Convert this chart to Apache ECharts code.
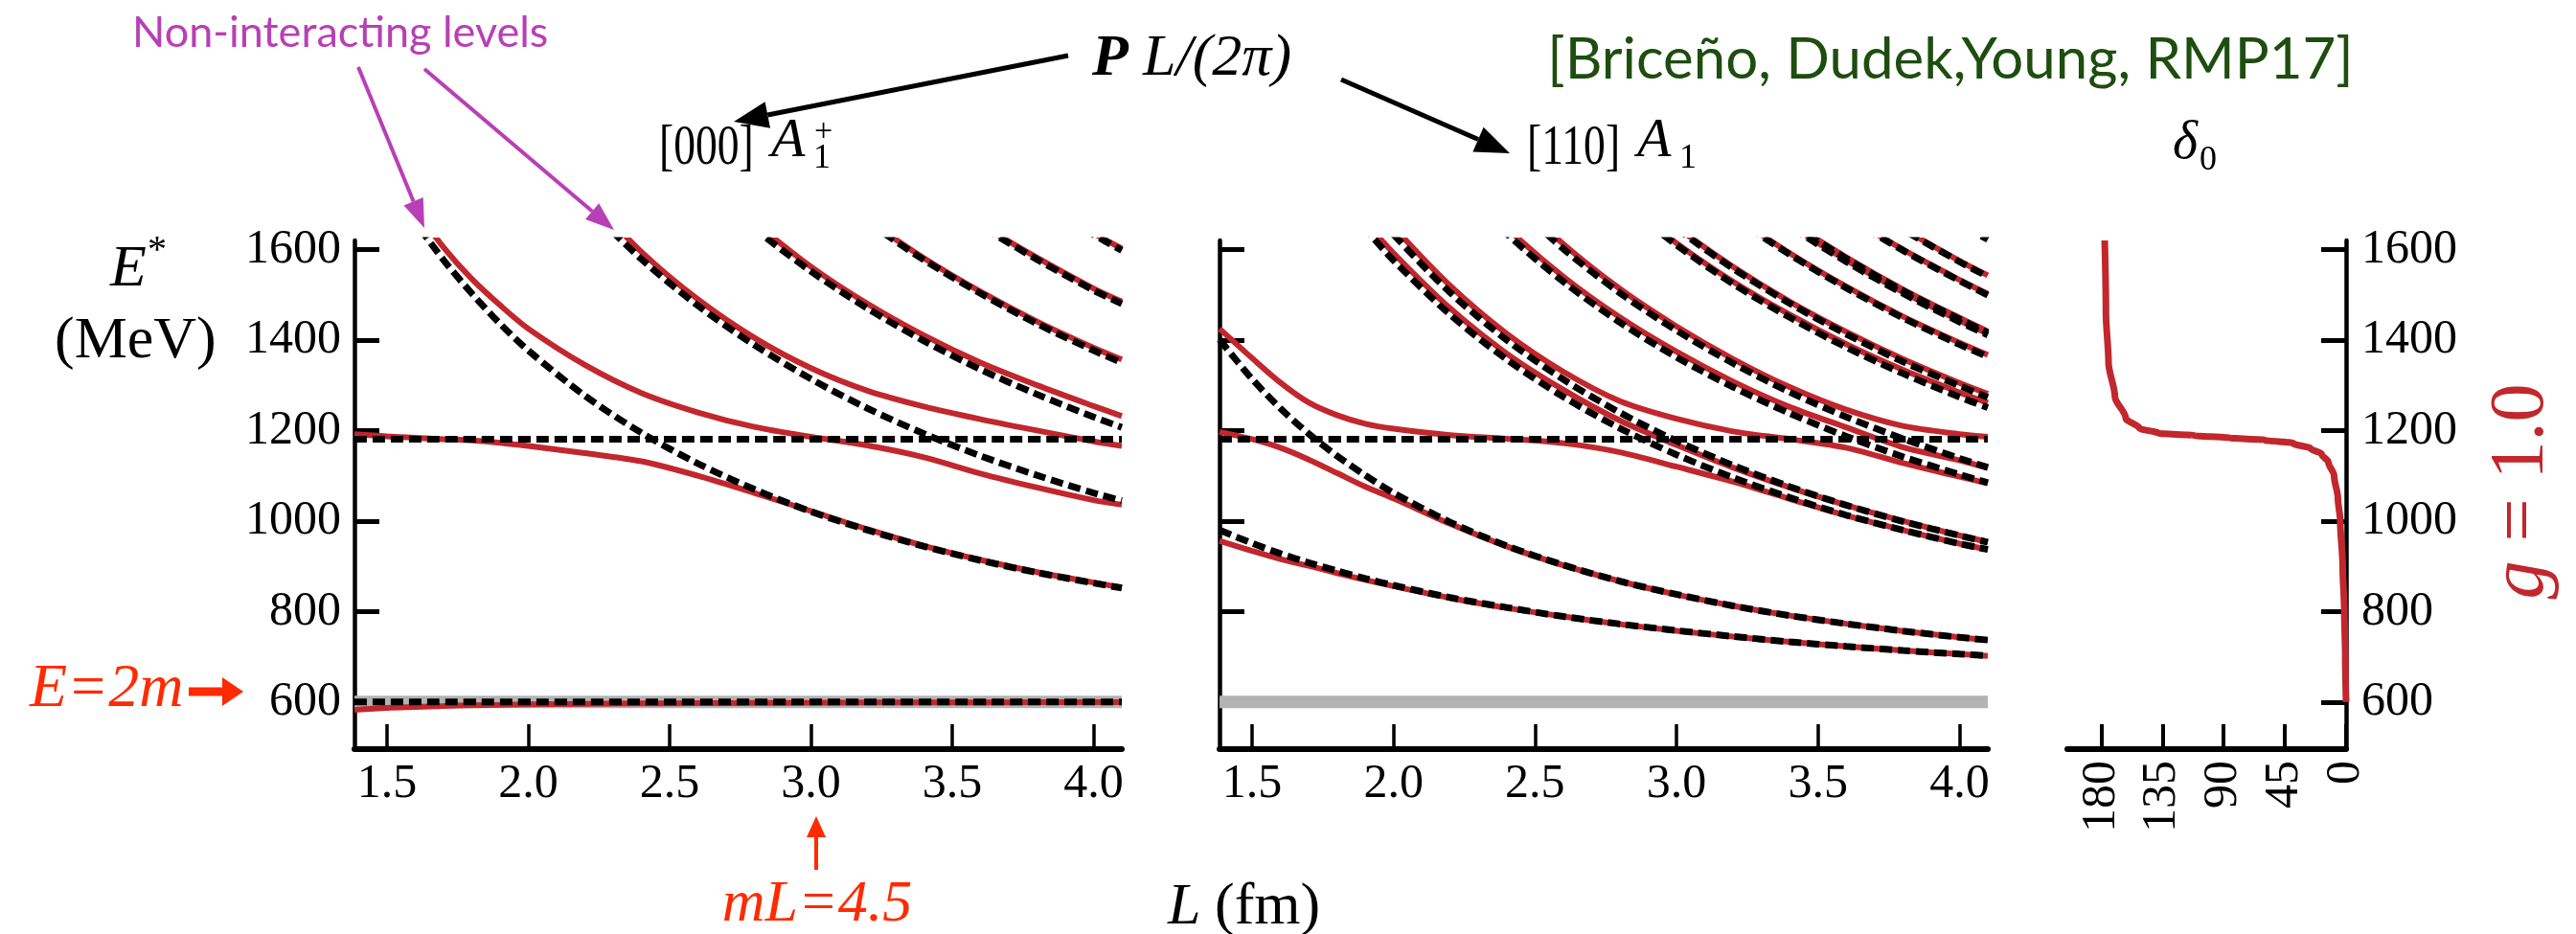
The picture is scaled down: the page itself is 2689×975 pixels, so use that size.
<!DOCTYPE html>
<html lang="en">
<head>
<meta charset="UTF-8">
<title>Finite-volume spectrum, resonance in s-wave</title>
<script src="https://cdn.jsdelivr.net/npm/echarts@6/dist/echarts.min.js"></script>
<style>
    * { margin: 0; padding: 0 }
    html, body { width: 100%; height: 100%; background: #fff; }
    #chart { width: 2689px; height: 975px; }
</style>
</head>
<body>
<div id="chart"></div>
<script>
    // box size L (fm) where the levels are sampled
    const L = [1.385, 1.5, 1.6, 1.7, 1.8, 1.9, 2.0, 2.2, 2.4, 2.6, 2.8, 3.0, 3.2, 3.4, 3.6, 3.8, 4.0, 4.1];
    const _ = null;

    // flat levels: threshold E=2m and the bare state
    const flatL = [1.385, 4.1];
    const threshold = [600, 600];
    const bare = [1181, 1181];

    // [000] A1+ : non-interacting levels (dashed)
    const p1Free = [
        [1888, 1759, 1662, 1577, 1503, 1436, 1377, 1277, 1195, 1127, 1070, 1021, 980, 944, 913, 886, 863, 852],
        [_, _, _, _, _, _, 1853, 1703, 1579, 1476, 1389, 1314, 1249, 1193, 1144, 1101, 1062, 1045],
        [_, _, _, _, _, _, _, _, _, 1757, 1647, 1552, 1470, 1398, 1335, 1280, 1230, 1207],
        [_, _, _, _, _, _, _, _, _, _, _, 1758, 1662, 1577, 1503, 1436, 1377, 1350],
        [_, _, _, _, _, _, _, _, _, _, _, _, _, 1737, 1653, 1578, 1510, 1480],
        [_, _, _, _, _, _, _, _, _, _, _, _, _, _, _, 1707, 1633, 1598]
    ];
    // [000] A1+ : interacting levels (red)
    const p1Levels = [
        [583, 587, 589, 591, 593, 594, 595, 596, 597, 597.5, 598, 598.5, 599, 599, 599, 599.5, 599.5, 599.5],
        [1192, 1187, 1184, 1181, 1178, 1173, 1166, 1150, 1132, 1100, 1062, 1022, 982, 945, 914, 887, 864, 853],
        [_, _, 1690, 1605, 1535, 1477, 1425, 1345, 1283, 1240, 1208, 1186, 1167, 1141, 1105, 1074, 1046, 1036],
        [_, _, _, _, _, _, _, 1725, 1595, 1490, 1405, 1338, 1288, 1253, 1225, 1200, 1176, 1166],
        [_, _, _, _, _, _, _, _, _, _, 1660, 1562, 1480, 1410, 1350, 1300, 1254, 1232],
        [_, _, _, _, _, _, _, _, _, _, _, 1762, 1666, 1581, 1507, 1441, 1383, 1357],
        [_, _, _, _, _, _, _, _, _, _, _, _, _, 1740, 1656, 1582, 1514, 1485],
        [_, _, _, _, _, _, _, _, _, _, _, _, _, _, _, 1710, 1636, 1602]
    ];

    // [110] A1 : non-interacting levels (dashed)
    const p2Free = [
        [980, 951, 928, 908, 890, 873, 858, 831, 809, 789, 772.5, 758, 745, 733, 723, 714, 706, 702.5],
        [1401, 1314, 1249, 1193, 1144, 1101, 1062, 997.5, 945, 903, 867, 838, 812.5, 791, 773, 757, 743, 737],
        [_, _, _, 1814, 1725.5, 1647, 1576, 1456, 1357, 1274.5, 1205, 1146.5, 1096, 1052, 1013, 980, 950, 937],
        [_, _, _, _, 1791, 1707, 1633, 1505, 1400, 1313, 1239.5, 1177, 1123, 1076, 1035, 999, 968, 953],
        [_, _, _, _, _, _, _, 1762, 1635, 1529, 1439, 1362, 1296, 1238, 1187, 1142, 1103, 1084.5],
        [_, _, _, _, _, _, _, _, 1717, 1601.5, 1504, 1421, 1348.5, 1285, 1230, 1182, 1138.5, 1118.5],
        [_, _, _, _, _, _, _, _, _, _, 1709, 1610, 1524, 1450, 1384, 1326, 1274, 1250.5],
        [_, _, _, _, _, _, _, _, _, _, 1749, 1647, 1558, 1481, 1413, 1352, 1299, 1273.5],
        [_, _, _, _, _, _, _, _, _, _, _, 1770, 1673, 1589, 1515, 1449, 1390, 1363],
        [_, _, _, _, _, _, _, _, _, _, _, _, 1742, 1652, 1573, 1503, 1440, 1411],
        [_, _, _, _, _, _, _, _, _, _, _, _, 1750, 1659, 1580, 1509, 1446, 1416],
        [_, _, _, _, _, _, _, _, _, _, _, _, _, 1759, 1674, 1598, 1531, 1499],
        [_, _, _, _, _, _, _, _, _, _, _, _, _, _, 1723, 1644, 1573, 1540],
        [_, _, _, _, _, _, _, _, _, _, _, _, _, _, _, 1732, 1657, 1622]
    ];
    // [110] A1 : interacting levels (red)
    const p2Levels = [
        [956, 934, 916, 901, 885, 870, 856, 830, 808, 789, 772, 757.5, 744.5, 733, 723, 714, 706, 702],
        [1197, 1181, 1162, 1136, 1106, 1076, 1050, 994, 944, 902, 867, 837.5, 812.5, 791, 773, 757, 743, 737],
        [1425, 1360, 1306, 1262, 1234, 1215, 1204, 1190, 1182, 1172, 1152, 1120, 1087, 1049, 1012, 980, 950, 937],
        [_, _, _, _, 1740, 1662, 1592, 1470, 1370, 1290, 1222, 1168, 1118, 1074, 1035, 1000, 968, 954],
        [_, _, _, _, _, 1725, 1650, 1520, 1414, 1330, 1265, 1226, 1198, 1181, 1162, 1128, 1098, 1083],
        [_, _, _, _, _, _, _, 1775, 1648, 1540, 1450, 1374, 1308, 1252, 1207, 1163, 1134, 1117],
        [_, _, _, _, _, _, _, _, 1730, 1612, 1513, 1430, 1358, 1296, 1246, 1210, 1192, 1186],
        [_, _, _, _, _, _, _, _, _, _, 1713, 1614, 1529, 1456, 1391, 1334, 1284, 1261],
        [_, _, _, _, _, _, _, _, _, _, 1752, 1650, 1562, 1485, 1418, 1358, 1305, 1281],
        [_, _, _, _, _, _, _, _, _, _, _, 1772, 1676, 1592, 1518, 1452, 1394, 1367],
        [_, _, _, _, _, _, _, _, _, _, _, _, 1745, 1655, 1576, 1506, 1443, 1414],
        [_, _, _, _, _, _, _, _, _, _, _, _, 1752, 1662, 1583, 1512, 1449, 1419],
        [_, _, _, _, _, _, _, _, _, _, _, _, _, 1761, 1676, 1600, 1533, 1502],
        [_, _, _, _, _, _, _, _, _, _, _, _, _, _, 1725, 1646, 1575, 1543],
        [_, _, _, _, _, _, _, _, _, _, _, _, _, _, _, 1734, 1659, 1624]
    ];

    // s-wave phase shift (deg) against E* (MeV)
    const deltaE = [600, 700, 800, 900, 1000, 1050, 1100, 1130, 1148, 1160, 1172, 1179, 1184, 1189, 1194, 1205, 1227, 1275, 1350, 1460, 1620];
    const deltaDeg = [0, 0.6, 1.3, 2.5, 4.3, 6.0, 8.8, 13, 18, 26, 39, 60, 86, 112, 138, 152, 162, 170, 174.7, 176.6, 177.5];

    // tick labels
    const eTicks = [600, 800, 1000, 1200, 1400, 1600];
    const lTicks = [1.5, 2.0, 2.5, 3.0, 3.5, 4.0];
    const degTicks = [0, 45, 90, 135, 180];

    const RED = '#c1272d';
    const ORANGE = '#ff2a00';
    const SERIF = 'Liberation Serif';

    function pairs(xs, ys) {
        return xs.map(function (x, i) { return [x, ys[i]]; })
            .filter(function (p) { return p[1] !== null; });
    }

    function redLine(ys, panel) {
        return {
            type: 'line', xAxisIndex: panel, yAxisIndex: panel, data: pairs(L, ys),
            symbol: 'none', smooth: 0.3, silent: true, z: 3,
            lineStyle: {color: RED, width: 6}
        };
    }

    function dashLine(xs, ys, panel) {
        return {
            type: 'line', xAxisIndex: panel, yAxisIndex: panel, data: pairs(xs, ys),
            symbol: 'none', smooth: 0.3, silent: true, z: 4,
            lineStyle: {color: '#000', width: 7, type: [13, 6]}
        };
    }

    function band(panel) {
        return {
            type: 'line', xAxisIndex: panel, yAxisIndex: panel, data: pairs(flatL, threshold),
            symbol: 'none', silent: true, z: 2,
            lineStyle: {color: '#b3b3b3', width: 13}
        };
    }

    var labelFont = {color: '#000', fontFamily: SERIF, fontSize: 50, fontStyle: 'normal', fontWeight: 'normal'};

    function lAxis(panel) {
        return {
            gridIndex: panel, type: 'value', min: 1.385, max: 4.1,
            axisLine: {show: true, onZero: false, lineStyle: {color: '#000', width: 6}},
            axisTick: {show: true, inside: true, length: 26, customValues: lTicks, lineStyle: {color: '#000', width: 3.5}},
            axisLabel: Object.assign({
                customValues: lTicks, margin: 12,
                formatter: function (v) { return v.toFixed(1); }
            }, labelFont),
            splitLine: {show: false}
        };
    }

    function eAxis(panel, pos, labels) {
        return {
            gridIndex: panel, type: 'value', min: 496, max: 1620, position: pos,
            axisLine: {show: true, onZero: false, lineStyle: {color: '#000', width: 4.5}},
            axisTick: {show: true, inside: true, length: 26, customValues: eTicks, lineStyle: {color: '#000', width: 5}},
            axisLabel: Object.assign({
                show: labels, customValues: eTicks, margin: pos === 'right' ? 16 : 14,
                formatter: function (v) { return String(v); }
            }, labelFont),
            splitLine: {show: false}
        };
    }

    function arrow(x1, y1, x2, y2, color, w, hl, hw) {
        var a = Math.atan2(y2 - y1, x2 - x1);
        var bx = x2 - hl * Math.cos(a), by = y2 - hl * Math.sin(a);
        var px = -Math.sin(a) * hw, py = Math.cos(a) * hw;
        return [
            {type: 'line', silent: true, shape: {x1: x1, y1: y1, x2: bx, y2: by}, style: {stroke: color, lineWidth: w}},
            {type: 'polygon', silent: true, shape: {points: [[x2, y2], [bx + px, by + py], [bx - px, by - py]]}, style: {fill: color}}
        ];
    }

    function txt(t, x, y, font, fill, align, extra) {
        var el = {
            type: 'text', silent: true, x: x, y: y,
            style: {text: t, font: font, fill: fill || '#000', textAlign: align || 'left', textVerticalAlign: 'middle'}
        };
        return Object.assign(el, extra || {});
    }

    var series = [band(0), band(1)];
    p1Levels.forEach(function (ys) { series.push(redLine(ys, 0)); });
    p2Levels.forEach(function (ys) { series.push(redLine(ys, 1)); });
    series.push(dashLine(flatL, threshold, 0));
    series.push(dashLine(flatL, bare, 0));
    series.push(dashLine(flatL, bare, 1));
    p1Free.forEach(function (ys) { series.push(dashLine(L, ys, 0)); });
    p2Free.forEach(function (ys) { series.push(dashLine(L, ys, 1)); });
    series.push({
        type: 'line', xAxisIndex: 2, yAxisIndex: 2, data: pairs(deltaDeg, deltaE),
        symbol: 'none', smooth: 0.3, smoothMonotone: 'y', silent: true, z: 3,
        lineStyle: {color: RED, width: 7}
    });

    var graphics = [
        txt('Non-interacting levels', 138, 34, '45px Lato', '#b83fb6'),
        txt('P', 1140, 62, 'bold italic 62px "Liberation Serif"'),
        txt('L/(2π)', 1193, 62, 'italic 62px "Liberation Serif"'),
        txt('[Briceño, Dudek,Young, RMP17]', 2036, 63, '60px Lato', '#1e4d10', 'center'),
        txt('[000]', 688, 155, '60px "Liberation Serif"', '#000', 'left', {scaleX: 0.76}),
        txt('A', 805, 148, 'italic 58px "Liberation Serif"'),
        txt('1', 849, 166, '36px "Liberation Serif"'),
        txt('+', 850, 138, '34px "Liberation Serif"'),
        txt('[110]', 1594, 155, '60px "Liberation Serif"', '#000', 'left', {scaleX: 0.76}),
        txt('A', 1709, 148, 'italic 58px "Liberation Serif"'),
        txt('1', 1753, 166, '36px "Liberation Serif"'),
        txt('δ', 2268, 150, 'italic 56px "Liberation Serif"'),
        txt('0', 2296, 168, '36px "Liberation Serif"'),
        txt('E', 115, 282, 'italic 62px "Liberation Serif"'),
        txt('*', 154, 262, '40px "Liberation Serif"'),
        txt('(MeV)', 57, 357, '62px "Liberation Serif"'),
        txt('E=2m', 31, 720, 'italic 64px "Liberation Serif"', ORANGE),
        txt('mL=4.5', 853, 945, 'italic 62px "Liberation Serif"', ORANGE, 'center'),
        txt('L', 1219, 948, 'italic 62px "Liberation Serif"'),
        txt('(fm)', 1268, 948, '62px "Liberation Serif"'),
        {
            type: 'text', silent: true, x: 2633, y: 513, rotation: Math.PI / 2,
            style: {
                text: '{i|g} = 1.0', font: '80px "Liberation Serif"', fill: RED,
                textAlign: 'center', textVerticalAlign: 'middle',
                rich: {i: {fontStyle: 'italic', fontSize: 80, fontFamily: SERIF, fill: RED}}
            }
        }
    ];
    graphics = graphics
        .concat(arrow(374, 70, 443, 238, '#b83fb6', 4, 30, 11))
        .concat(arrow(443, 72, 641, 240, '#b83fb6', 4, 30, 11))
        .concat(arrow(1115, 58, 766, 127, '#000', 5, 36, 14))
        .concat(arrow(1400, 83, 1576, 160, '#000', 5, 36, 14))
        .concat(arrow(197, 722, 254, 722, ORANGE, 9, 22, 15))
        .concat(arrow(852, 908, 852, 852, ORANGE, 4, 22, 10));

    var myChart = echarts.init(document.getElementById('chart'));
    var option = {
        animation: false,
        backgroundColor: '#fff',
        textStyle: {fontFamily: SERIF},
        grid: [
            {left: 370, top: 251, width: 801, height: 531},
            {left: 1273, top: 251, width: 802, height: 531},
            {left: 2158, top: 251, width: 291, height: 531}
        ],
        xAxis: [
            lAxis(0),
            lAxis(1),
            {
                gridIndex: 2, type: 'value', min: 0, max: 205, inverse: true,
                axisLine: {show: true, onZero: false, lineStyle: {color: '#000', width: 6}},
                axisTick: {show: true, inside: true, length: 26, customValues: degTicks, lineStyle: {color: '#000', width: 4}},
                axisLabel: Object.assign({customValues: degTicks, rotate: 90, margin: 12}, labelFont),
                splitLine: {show: false}
            }
        ],
        yAxis: [eAxis(0, 'left', true), eAxis(1, 'left', false), eAxis(2, 'right', true)],
        series: series,
        graphic: {elements: graphics}
    };
    myChart.setOption(option);
</script>
</body>
</html>
